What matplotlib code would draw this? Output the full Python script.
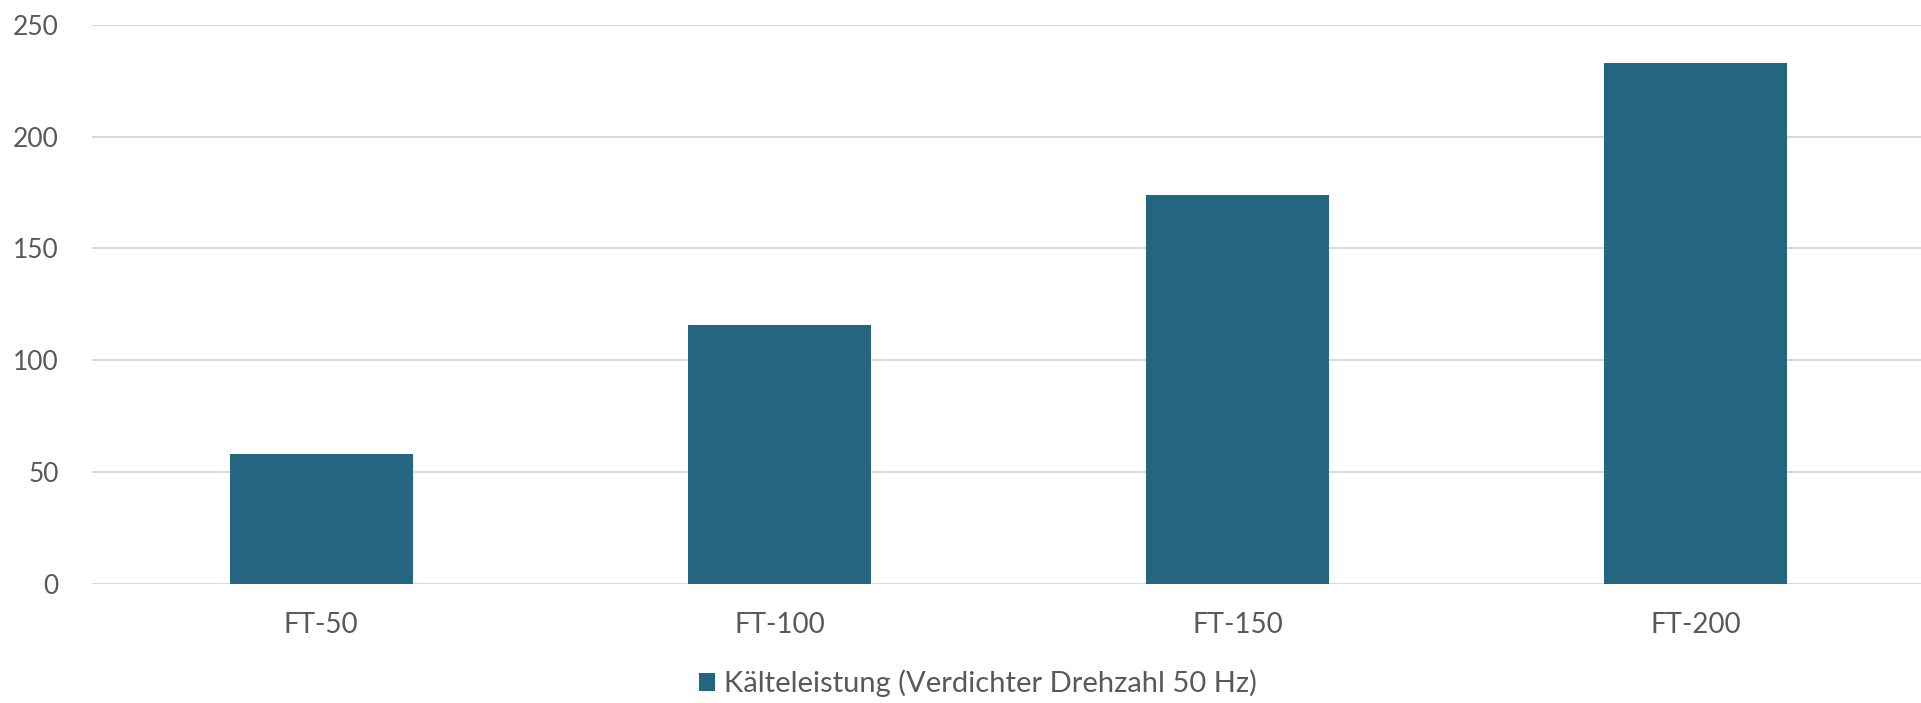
import matplotlib
matplotlib.use('Agg')
import matplotlib.pyplot as plt
import numpy as np

# Kälteleistung je Modell
models = ['FT-50', 'FT-100', 'FT-150', 'FT-200']
cooling = [58, 116, 174, 233]
yticks = [0, 50, 100, 150, 200, 250]
series_label = 'Kälteleistung (Verdichter Drehzahl 50 Hz)'

bar_color = '#246680'
text_color = '#595959'
grid_color = '#d9d9d9'

plt.rcParams['font.family'] = ['Lato', 'DejaVu Sans']

fig = plt.figure(figsize=(19.21, 7.03), dpi=100)
ax = fig.add_axes([0.048, 0.169, 0.954, 0.796])

x = np.arange(len(models))
ax.bar(x, cooling, width=0.4, color=bar_color, label=series_label, zorder=3)

ax.set_xlim(-0.5, len(models) - 0.5)
ax.set_ylim(0, 250)
ax.set_yticks(yticks)
ax.set_xticks(x)
ax.set_xticklabels(models)

ax.yaxis.grid(True, color=grid_color, linewidth=1.5, zorder=0)
ax.set_axisbelow(True)
for s in ax.spines.values():
    s.set_visible(False)

ax.tick_params(axis='y', length=0, pad=24, labelsize=19, labelcolor=text_color)
ax.tick_params(axis='x', length=0, pad=20, labelsize=20, labelcolor=text_color)

fig.legend(loc='center', bbox_to_anchor=(0.509, 0.028), frameon=False,
           fontsize=21, labelcolor=text_color, handlelength=0.55,
           handleheight=0.55, handletextpad=0.3)

fig.savefig('out.png', dpi=100)
